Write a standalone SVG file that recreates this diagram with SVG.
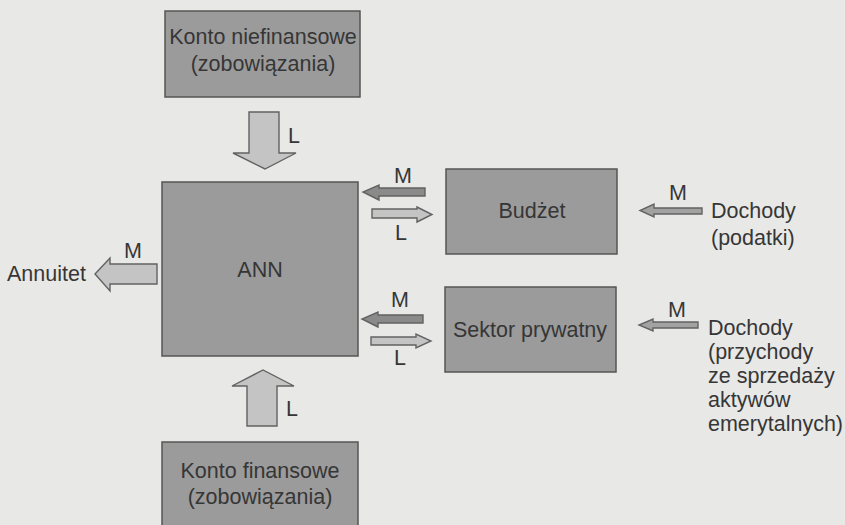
<svg xmlns="http://www.w3.org/2000/svg" width="845" height="525" viewBox="0 0 845 525">
  <style>
    .box { fill: #9b9b9b; stroke: #555; stroke-width: 1.5; }
    .t { font-family: "Liberation Sans", Arial, sans-serif; font-size: 21.5px; fill: #363636; }
    .c { text-anchor: middle; }
    .light { fill: #c4c4c4; stroke: #626262; stroke-width: 1.4; stroke-linejoin: miter; }
    .dark { fill: #8a8a8a; stroke: #626262; stroke-width: 1.4; }
    .mid { fill: #a2a2a2; stroke: #626262; stroke-width: 1.4; }
  </style>
  <rect width="845" height="525" fill="#e8e8e6"/>

  <!-- nodes -->
  <g id="konto-niefinansowe">
    <rect class="box" x="165" y="11" width="195" height="86"/>
    <text class="t c" x="263" y="44">Konto niefinansowe</text>
    <text class="t c" x="263" y="71">(zobowiązania)</text>
  </g>
  <g id="ann">
    <rect class="box" x="162" y="182" width="196" height="174"/>
    <text class="t c" x="260" y="277">ANN</text>
  </g>
  <g id="budzet">
    <rect class="box" x="446" y="169" width="171" height="85"/>
    <text class="t c" x="532" y="218">Budżet</text>
  </g>
  <g id="sektor-prywatny">
    <rect class="box" x="445" y="287" width="171" height="85"/>
    <text class="t c" x="530" y="337">Sektor prywatny</text>
  </g>
  <g id="konto-finansowe">
    <rect class="box" x="162" y="442" width="196" height="95"/>
    <text class="t c" x="260" y="478">Konto finansowe</text>
    <text class="t c" x="260" y="504">(zobowiązania)</text>
  </g>
  <g id="annuitet">
    <text class="t" x="7" y="281">Annuitet</text>
  </g>
  <g id="dochody-podatki">
    <text class="t" x="711" y="218">Dochody</text>
    <text class="t" x="711" y="245">(podatki)</text>
  </g>
  <g id="dochody-aktywa">
    <text class="t" x="708" y="335">Dochody</text>
    <text class="t" x="708" y="359">(przychody</text>
    <text class="t" x="708" y="383">ze sprzedaży</text>
    <text class="t" x="708" y="407">aktywów</text>
    <text class="t" x="708" y="431">emerytalnych)</text>
  </g>

  <!-- connectors: block arrows with flow labels -->
  <g id="connectors">
    <!-- Konto niefinansowe -> ANN -->
    <path class="light" d="M249,112 H279 V153 H296 L265,169 L233,153 H249 Z"/>
    <text class="t" x="288" y="143">L</text>

    <!-- Konto finansowe -> ANN -->
    <path class="light" d="M247,426 H277 V386 H294 L263,370 L232,386 H247 Z"/>
    <text class="t" x="286" y="416">L</text>

    <!-- ANN -> Annuitet -->
    <path class="light" d="M157,264 V284 H110 V291 L95,274 L110,258 V264 Z"/>
    <text class="t c" x="133" y="258">M</text>

    <!-- Budżet <-> ANN -->
    <path class="dark" d="M425,188 V196 H379 V200 L363,192 L379,185 V188 Z"/>
    <text class="t c" x="403" y="183">M</text>
    <path class="light" d="M372,209 H417 V207 L432,214.5 L417,222 V218 H372 Z"/>
    <text class="t c" x="401" y="240">L</text>

    <!-- Sektor prywatny <-> ANN -->
    <path class="dark" d="M423,315 V323 H378 V327 L362,319 L378,312 V315 Z"/>
    <text class="t c" x="400" y="307">M</text>
    <path class="light" d="M371,337 H416 V334 L431,341 L416,348 V345 H371 Z"/>
    <text class="t c" x="400" y="365">L</text>

    <!-- Dochody -> Budżet -->
    <path class="mid" d="M702,208 V214 H654 V217 L640,210.5 L654,204 V208 Z"/>
    <text class="t c" x="678" y="200">M</text>

    <!-- Dochody -> Sektor prywatny -->
    <path class="mid" d="M698,322 V328 H653 V331 L639,325 L653,319 V322 Z"/>
    <text class="t c" x="677" y="317">M</text>
  </g>
</svg>
